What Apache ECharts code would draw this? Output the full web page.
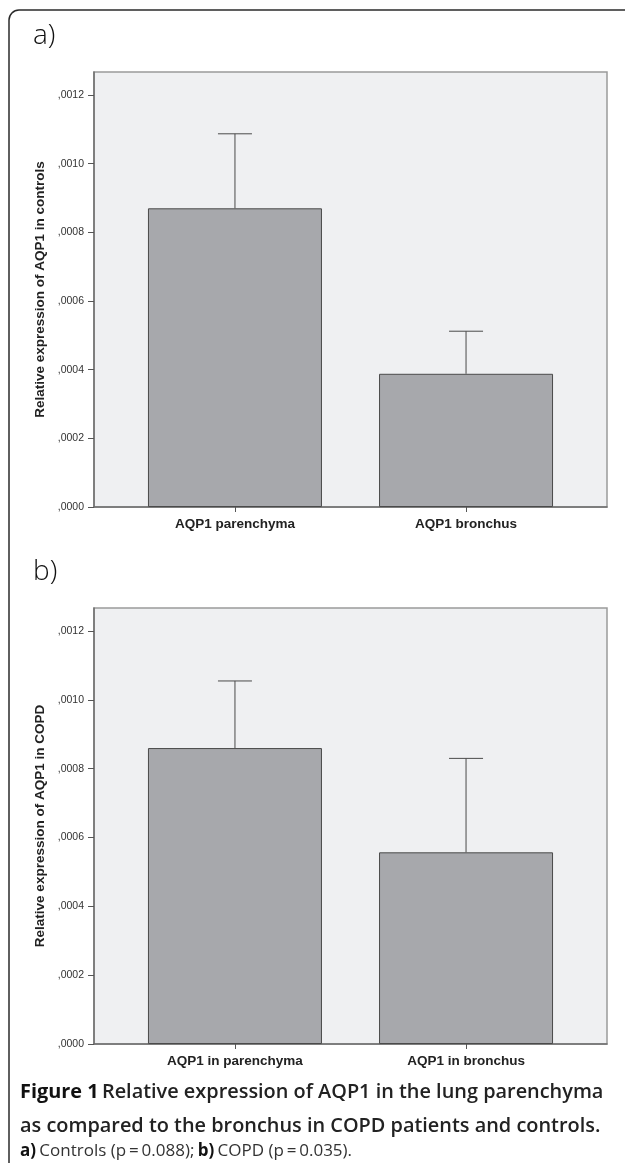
<!DOCTYPE html>
<html>
<head>
<meta charset="utf-8">
<script src="https://cdn.jsdelivr.net/npm/echarts@6/dist/echarts.min.js"></script>
<style>
html,body{margin:0;padding:0;background:#fff;}
#c{width:625px;height:1163px;}
</style>
</head>
<body>
<div id="c"></div>
<script>
// ---- data ----
var categoriesA = ['AQP1 parenchyma', 'AQP1 bronchus'];
var valuesA = [0.000870, 0.000388];
var errorTopA = [0.001087, 0.000512];

var categoriesB = ['AQP1 in parenchyma', 'AQP1 in bronchus'];
var valuesB = [0.000860, 0.000557];
var errorTopB = [0.001055, 0.000830];

var yTitleA = 'Relative expression of AQP1 in controls';
var yTitleB = 'Relative expression of AQP1 in COPD';

// ---- helpers ----
function fmtTick(v) {
  var s = String(Math.round(v * 10000));
  while (s.length < 4) s = '0' + s;
  return ',' + s;
}
var chart = echarts.init(document.getElementById('c'), null, {renderer: 'canvas'});

function xAxisCfg(gridIndex, cats) {
  return {
    type: 'value', gridIndex: gridIndex, min: -0.61, max: 1.61,
    splitLine: {show: false},
    axisLine: {show: true, onZero: false, lineStyle: {color: '#6e6e6e', width: 1.5}},
    axisTick: {show: true, customValues: [0, 1], length: 5, lineStyle: {color: '#555', width: 1}},
    axisLabel: {
      show: true, customValues: [0, 1], margin: 10,
      formatter: function (v) { return cats[Math.round(v)] || ''; },
      fontFamily: 'Liberation Sans, Arial', fontWeight: 'bold', fontSize: 13.5, color: '#222'
    }
  };
}
function yAxisCfg(gridIndex, title) {
  return {
    type: 'value', gridIndex: gridIndex, min: 0, max: 0.001267, interval: 0.0002,
    splitLine: {show: false},
    axisLine: {show: true, onZero: false, lineStyle: {color: '#6e6e6e', width: 1.5}},
    axisTick: {show: true, length: 6, lineStyle: {color: '#555', width: 1}},
    axisLabel: {
      showMaxLabel: false, margin: 10,
      formatter: function (v) { return fmtTick(v); },
      fontFamily: 'Liberation Sans, Arial', fontSize: 10.5, color: '#333'
    },
    name: title, nameLocation: 'middle', nameGap: 39, nameRotate: 90,
    nameTextStyle: {fontFamily: 'Liberation Sans, Arial', fontWeight: 'bold', fontSize: 13.5, color: '#222'}
  };
}
function barSeries(idx, vals) {
  return {
    type: 'bar', xAxisIndex: idx, yAxisIndex: idx, barWidth: 174,
    data: vals.map(function (v, i) { return [i, v]; }),
    itemStyle: {color: '#a7a8ac', borderColor: '#4a4a4a', borderWidth: 1},
    silent: true, z: 2
  };
}
function errSeries(idx, vals, tops) {
  return {
    type: 'custom', xAxisIndex: idx, yAxisIndex: idx, z: 3, silent: true,
    data: vals.map(function (v, i) { return [i, v, tops[i]]; }),
    renderItem: function (params, api) {
      var base = api.coord([api.value(0), api.value(1)]);
      var top = api.coord([api.value(0), api.value(2)]);
      var half = 17;
      return {
        type: 'group',
        children: [
          {type: 'line', shape: {x1: base[0], y1: base[1], x2: top[0], y2: top[1]},
           style: {stroke: '#4a4a4a', lineWidth: 1}},
          {type: 'line', shape: {x1: top[0] - half, y1: top[1], x2: top[0] + half, y2: top[1]},
           style: {stroke: '#4a4a4a', lineWidth: 1}}
        ]
      };
    }
  };
}

var option = {
  animation: false,
  backgroundColor: '#ffffff',
  grid: [
    {left: 94, right: 18, top: 72, height: 435, show: true, backgroundColor: '#eff0f2', borderColor: '#9a9a9a', borderWidth: 1.5, containLabel: false},
    {left: 94, right: 18, top: 608, height: 436, show: true, backgroundColor: '#eff0f2', borderColor: '#9a9a9a', borderWidth: 1.5, containLabel: false}
  ],
  xAxis: [xAxisCfg(0, categoriesA), xAxisCfg(1, categoriesB)],
  yAxis: [yAxisCfg(0, yTitleA), yAxisCfg(1, yTitleB)],
  series: [
    barSeries(0, valuesA), errSeries(0, valuesA, errorTopA),
    barSeries(1, valuesB), errSeries(1, valuesB, errorTopB)
  ],
  graphic: [
    {type: 'line', silent: true, shape: {x1: 9, y1: 20, x2: 9, y2: 1163},
     style: {stroke: '#2a2a2a', lineWidth: 1.5}},
    {type: 'line', silent: true, shape: {x1: 19, y1: 10, x2: 625, y2: 10},
     style: {stroke: '#2a2a2a', lineWidth: 1.5}},
    {type: 'arc', silent: true, shape: {cx: 19, cy: 20, r: 10, startAngle: Math.PI, endAngle: Math.PI * 1.5},
     style: {stroke: '#2a2a2a', lineWidth: 1.5, fill: null}},
    {type: 'text', left: 33, top: 22, silent: true,
     style: {text: 'a)', fontFamily: 'Open Sans', fontWeight: 300, fontSize: 28, fill: '#111'}},
    {type: 'text', left: 33, top: 558, silent: true,
     style: {text: 'b)', fontFamily: 'Open Sans', fontWeight: 300, fontSize: 28, fill: '#111'}},
    {type: 'text', left: 20, top: 1082, silent: true,
     style: {
       text: '{b|Figure 1} {s|Relative expression of AQP1 in the lung parenchyma}\n{s|as compared to the bronchus in COPD patients and controls.}',
       rich: {
         b: {fontFamily: 'Open Sans', fontWeight: 'bold', fontSize: 19.9, fill: '#111', lineHeight: 34},
         s: {fontFamily: 'Open Sans', fontWeight: 600, fontSize: 19.9, fill: '#222', lineHeight: 34}
       }
     }},
    {type: 'text', left: 20, top: 1143, silent: true,
     style: {
       text: '{b|a)} {l|Controls (p\u2009=\u20090.088);} {b|b)} {l|COPD (p\u2009=\u20090.035).}',
       rich: {
         b: {fontFamily: 'Open Sans', fontWeight: 'bold', fontSize: 17, fill: '#111'},
         l: {fontFamily: 'Open Sans', fontWeight: 400, fontSize: 17, fill: '#333'}
       }
     }}
  ]
};
chart.setOption(option);
</script>
</body>
</html>
